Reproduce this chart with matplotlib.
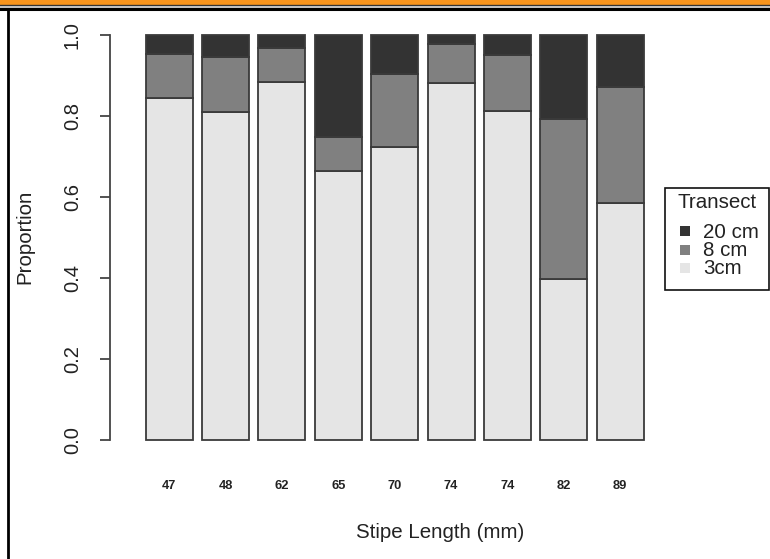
import matplotlib
matplotlib.use("Agg")
import matplotlib.pyplot as plt
from matplotlib.patches import Rectangle
from matplotlib.lines import Line2D
import numpy as np

plt.rcParams['font.family'] = ['Liberation Sans', 'DejaVu Sans']

# ---- data ----
stipe_labels = ["47", "48", "62", "65", "70", "74", "74", "82", "89"]
p_3cm  = [0.845, 0.809, 0.883, 0.665, 0.723, 0.881, 0.812, 0.397, 0.584]
p_8cm  = [0.108, 0.137, 0.084, 0.082, 0.181, 0.098, 0.138, 0.395, 0.288]
p_20cm = [1 - a - b for a, b in zip(p_3cm, p_8cm)]
series_names = ["20 cm", "8 cm", "3cm"]
series_colors = ["#333333", "#808080", "#E5E5E5"]

W, H = 770, 559
fig = plt.figure(figsize=(W / 100, H / 100), dpi=100)

def fx(x):
    return x / W

def fy(y):
    return 1 - y / H

# axes placement (pixel coords)
ax_l, ax_r, ax_t, ax_b = 110, 662, 18.8, 456.2
ax = fig.add_axes([fx(ax_l), fy(ax_b), (ax_r - ax_l) / W, (ax_b - ax_t) / H])

x = 0.7 + 1.2 * np.arange(len(stipe_labels))
edge = "#3a3a3a"
lw = 1.3
ax.bar(x, p_3cm, width=1.0, color=series_colors[2], edgecolor=edge, linewidth=lw)
ax.bar(x, p_8cm, width=1.0, bottom=p_3cm, color=series_colors[1], edgecolor=edge, linewidth=lw)
bot3 = [a + b for a, b in zip(p_3cm, p_8cm)]
ax.bar(x, p_20cm, width=1.0, bottom=bot3, color=series_colors[0], edgecolor=edge, linewidth=lw)

ax.set_xlim(-0.56, 11.19)
ax.set_ylim(-0.04, 1.04)
for s in ["top", "right", "bottom"]:
    ax.spines[s].set_visible(False)
ax.spines["left"].set_bounds(0, 1)
ax.spines["left"].set_color("#444444")
ax.spines["left"].set_linewidth(1.3)

ax.set_yticks([0, 0.2, 0.4, 0.6, 0.8, 1.0])
ax.set_yticklabels(["0.0", "0.2", "0.4", "0.6", "0.8", "1.0"])
ax.tick_params(axis="y", length=7.2, width=1.3, color="#444444", pad=13,
               labelsize=14.5, labelcolor="#222222")
for t in ax.get_yticklabels():
    t.set_rotation(90)
    t.set_va("center")

ax.set_xticks(x)
ax.set_xticklabels(stipe_labels, fontsize=9.3, fontweight="bold", color="#222222")
ax.tick_params(axis="x", length=0, pad=17)

ax.set_xlabel("Stipe Length (mm)", fontsize=14.8, color="#222222", va="center")
ax.xaxis.set_label_coords((440 - ax_l) / (ax_r - ax_l), (ax_b - 532) / (ax_b - ax_t))
ax.set_ylabel("Proportion", fontsize=14.8, color="#222222", va="center")
ax.yaxis.set_label_coords((25 - ax_l) / (ax_r - ax_l), (ax_b - 237) / (ax_b - ax_t))

# ---- legend (drawn in figure pixel coordinates) ----
lx0, ly0, lx1, ly1 = 665, 188, 768.5, 290
fig.patches.append(Rectangle((fx(lx0), fy(ly1)), fx(lx1 - lx0), (ly1 - ly0) / H,
                             transform=fig.transFigure, fill=False, edgecolor="#111111",
                             linewidth=1.2))
fig.text(fx(717), fy(203), "Transect", fontsize=14.8, ha="center", va="center", color="#222222")
entry_y = [231, 250, 268]
for name, col, yy in zip(series_names, series_colors, entry_y):
    fig.patches.append(Rectangle((fx(679.5), fy(yy + 5)), 10 / W, 10 / H,
                                 transform=fig.transFigure, facecolor=col, edgecolor="none"))
    fig.text(fx(703), fy(yy + 1), name, fontsize=14.8, ha="left", va="center", color="#222222")

# ---- frame decorations ----
fig.patches.append(Rectangle((0, fy(4.5)), 1, 4.5 / H, transform=fig.transFigure,
                             facecolor="#F7941D", edgecolor="none"))
fig.lines.append(Line2D([0, 1], [fy(5.0), fy(5.0)], transform=fig.transFigure, color="#333333", linewidth=1.0))
fig.lines.append(Line2D([0, 1], [fy(6.5), fy(6.5)], transform=fig.transFigure, color="#bbbbbb", linewidth=1.2))
fig.lines.append(Line2D([0, 1], [fy(9.2), fy(9.2)], transform=fig.transFigure, color="#000000", linewidth=2.2))
fig.lines.append(Line2D([fx(8), fx(8)], [0, fy(9)], transform=fig.transFigure, color="#000000", linewidth=2.0))

fig.savefig("out.png", dpi=100)
